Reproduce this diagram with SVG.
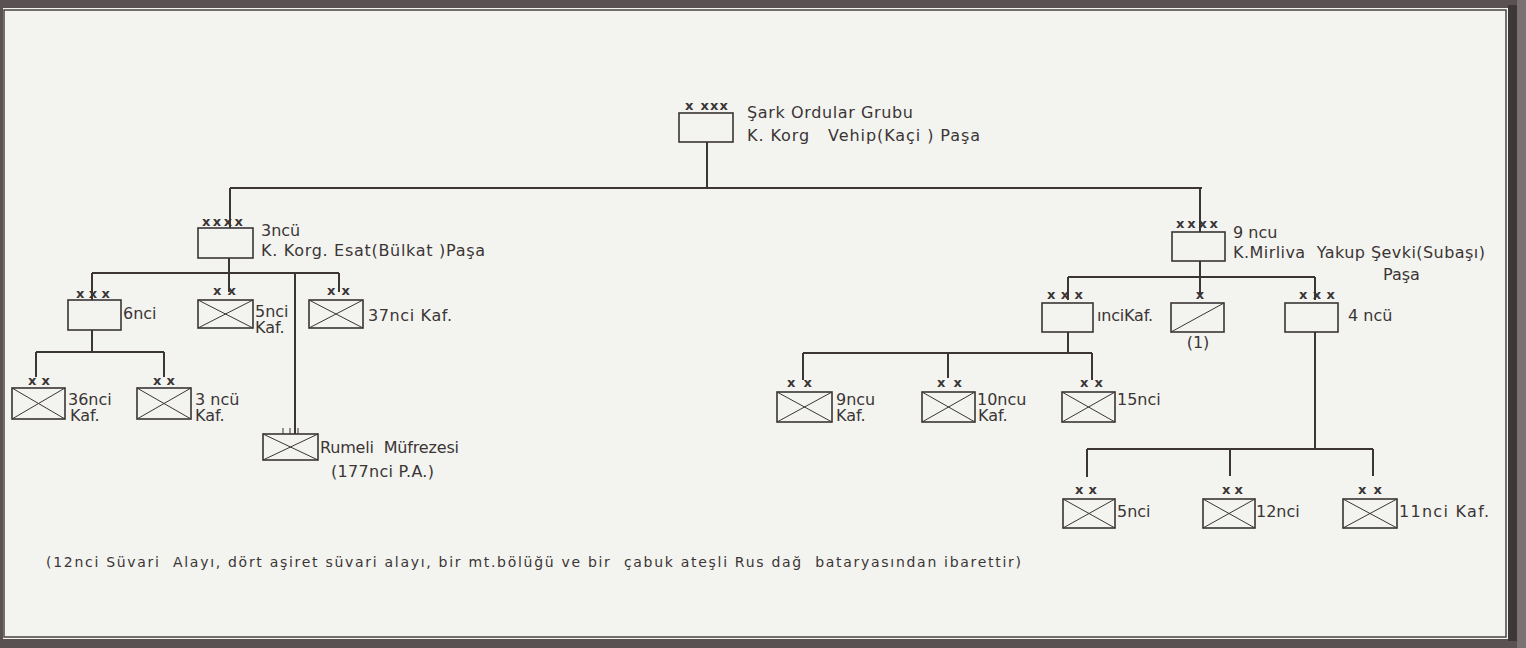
<svg xmlns="http://www.w3.org/2000/svg" width="1526" height="648" viewBox="0 0 1526 648" xml:space="preserve">
<style>
.bg{fill:#5a5152}
.paper{fill:#f3f4ef}
.frame{fill:none;stroke:#4a4244;stroke-width:1.5}
.ln{fill:none;stroke:#3b3536;stroke-width:2}
.bx{fill:none;stroke:#3b3536;stroke-width:1.6}
.x{fill:none;stroke:#3b3536;stroke-width:1}
.t{font-family:"DejaVu Sans","Liberation Sans",sans-serif;font-size:16px;fill:#3b3536;white-space:pre}
.s{font-family:"DejaVu Sans","Liberation Sans",sans-serif;font-size:14px;fill:#3b3536;white-space:pre}
.m{font-family:"DejaVu Sans","Liberation Sans",sans-serif;font-size:13px;font-weight:bold;fill:#3b3536;white-space:pre}
</style>
<rect class="bg" x="0" y="0" width="1526" height="648"/>
<rect class="paper" x="3" y="8" width="1505" height="631"/>
<rect class="frame" x="4" y="10" width="1502" height="627"/>
<rect x="1508" y="5" width="9" height="636" fill="#3e3738"/>
<rect x="1517" y="0" width="9" height="648" fill="#7a7173"/>

<g id="connectors">
<path class="ln" d="M707 142V188M230 188H1202M230 188V228M1200 188V232"/>
<path class="ln" d="M229 258V273M92 273H339M92 273V300M229 273V292M339 273V292M295 273V434"/>
<path class="ln" d="M92 330V352M36 352H164M36 352V377M164 352V377"/>
<path class="ln" d="M1200 261V277M1068 277H1315M1068 277V300M1200 277V295M1315 277V300"/>
<path class="ln" d="M1068 332V353M803 353H1092M803 353V380M948 353V378M1092 353V380"/>
<path class="ln" d="M1315 332V449M1087 449H1373M1087 449V477M1230 449V476M1373 449V476"/>
</g>

<g id="n-sark">
<rect class="bx" x="679" y="113" width="54" height="29"/>
<text class="m" x="685" y="110" textLength="43">x xxx</text>
<text class="t" x="747" y="118" textLength="166">Şark Ordular Grubu</text>
<text class="t" x="747" y="141" textLength="233">K. Korg   Vehip(Kaçi ) Paşa</text>
</g>

<g id="n-3ncu">
<rect class="bx" x="198" y="228" width="55" height="30"/>
<text class="m" x="202" y="226" textLength="41">xxxx</text>
<text class="t" x="261" y="236">3ncü</text>
<text class="t" x="261" y="256" textLength="224">K. Korg. Esat(Bülkat )Paşa</text>
</g>

<g id="n-6nci">
<rect class="bx" x="68" y="300" width="53" height="30"/>
<text class="m" x="76" y="298" textLength="34">x x x</text>
<text class="t" x="123" y="319">6nci</text>
</g>

<g id="n-5nci">
<rect class="bx" x="198" y="300" width="55" height="28"/>
<path class="x" d="M198 300L253 328M198 328L253 300"/>
<text class="m" x="213" y="295" textLength="23">x x</text>
<text class="t" x="255" y="317">5nci</text>
<text class="t" x="255" y="333">Kaf.</text>
</g>

<g id="n-37nci">
<rect class="bx" x="309" y="300" width="54" height="28"/>
<path class="x" d="M309 300L363 328M309 328L363 300"/>
<text class="m" x="327" y="295" textLength="23">x x</text>
<text class="t" x="368" y="321" textLength="84">37nci Kaf.</text>
</g>

<g id="n-36nci">
<rect class="bx" x="12" y="388" width="53" height="31"/>
<path class="x" d="M12 388L65 419M12 419L65 388"/>
<text class="m" x="28" y="385" textLength="22">xx</text>
<text class="t" x="68" y="405">36nci</text>
<text class="t" x="70" y="421">Kaf.</text>
</g>

<g id="n-3ncu-kaf">
<rect class="bx" x="137" y="388" width="54" height="31"/>
<path class="x" d="M137 388L191 419M137 419L191 388"/>
<text class="m" x="153" y="385" textLength="22">x x</text>
<text class="t" x="195" y="405">3 ncü</text>
<text class="t" x="195" y="421">Kaf.</text>
</g>

<g id="n-rumeli">
<path class="x" stroke-width="1.5" d="M283 428V434M290 428V434M298 428V434"/>
<rect class="bx" x="263" y="434" width="55" height="26"/>
<path class="x" d="M263 434L318 460M263 460L318 434"/>
<text class="t" x="320" y="453" textLength="139">Rumeli  Müfrezesi</text>
<text class="t" x="331" y="477" textLength="103">(177nci P.A.)</text>
</g>

<g id="n-9ncu">
<rect class="bx" x="1172" y="232" width="53" height="29"/>
<text class="m" x="1176" y="228" textLength="42">xxxx</text>
<text class="t" x="1233" y="238">9 ncu</text>
<text class="t" x="1233" y="258" textLength="252">K.Mirliva  Yakup Şevki(Subaşı)</text>
<text class="t" x="1383" y="280">Paşa</text>
</g>

<g id="n-1nci">
<rect class="bx" x="1042" y="303" width="51" height="29"/>
<text class="m" x="1047" y="299" textLength="36">x x x</text>
<text class="t" x="1097" y="321" textLength="56">ınciKaf.</text>
</g>

<g id="n-1">
<rect class="bx" x="1171" y="303" width="53" height="29"/>
<path class="x" d="M1171 332L1224 303"/>
<text class="m" x="1200" y="299" text-anchor="middle">x</text>
<text class="t" x="1198" y="348" text-anchor="middle">(1)</text>
</g>

<g id="n-4ncu">
<rect class="bx" x="1285" y="303" width="53" height="29"/>
<text class="m" x="1299" y="299" textLength="36">x x x</text>
<text class="t" x="1348" y="321">4 ncü</text>
</g>

<g id="n-9ncu-kaf">
<rect class="bx" x="777" y="392" width="55" height="30"/>
<path class="x" d="M777 392L832 422M777 422L832 392"/>
<text class="m" x="787" y="387" textLength="25">x x</text>
<text class="t" x="836" y="405">9ncu</text>
<text class="t" x="836" y="421">Kaf.</text>
</g>

<g id="n-10ncu">
<rect class="bx" x="922" y="392" width="53" height="30"/>
<path class="x" d="M922 392L975 422M922 422L975 392"/>
<text class="m" x="937" y="387" textLength="25">x x</text>
<text class="t" x="977" y="405">10ncu</text>
<text class="t" x="978" y="421">Kaf.</text>
</g>

<g id="n-15nci">
<rect class="bx" x="1062" y="392" width="53" height="30"/>
<path class="x" d="M1062 392L1115 422M1062 422L1115 392"/>
<text class="m" x="1080" y="387" textLength="23">x x</text>
<text class="t" x="1117" y="405">15nci</text>
</g>

<g id="n-5nci-b">
<rect class="bx" x="1063" y="499" width="52" height="29"/>
<path class="x" d="M1063 499L1115 528M1063 528L1115 499"/>
<text class="m" x="1075" y="494" textLength="22">x x</text>
<text class="t" x="1117" y="517">5nci</text>
</g>

<g id="n-12nci">
<rect class="bx" x="1203" y="499" width="52" height="29"/>
<path class="x" d="M1203 499L1255 528M1203 528L1255 499"/>
<text class="m" x="1222" y="494" textLength="21">x x</text>
<text class="t" x="1256" y="517">12nci</text>
</g>

<g id="n-11nci">
<rect class="bx" x="1343" y="499" width="54" height="29"/>
<path class="x" d="M1343 499L1397 528M1343 528L1397 499"/>
<text class="m" x="1358" y="494" textLength="24">x x</text>
<text class="t" x="1399" y="517" textLength="90">11nci Kaf.</text>
</g>

<g id="note">
<text class="s" x="46" y="567" textLength="975">(12nci Süvari  Alayı, dört aşiret süvari alayı, bir mt.bölüğü ve bir  çabuk ateşli Rus dağ  bataryasından ibarettir)</text>
</g>
</svg>
